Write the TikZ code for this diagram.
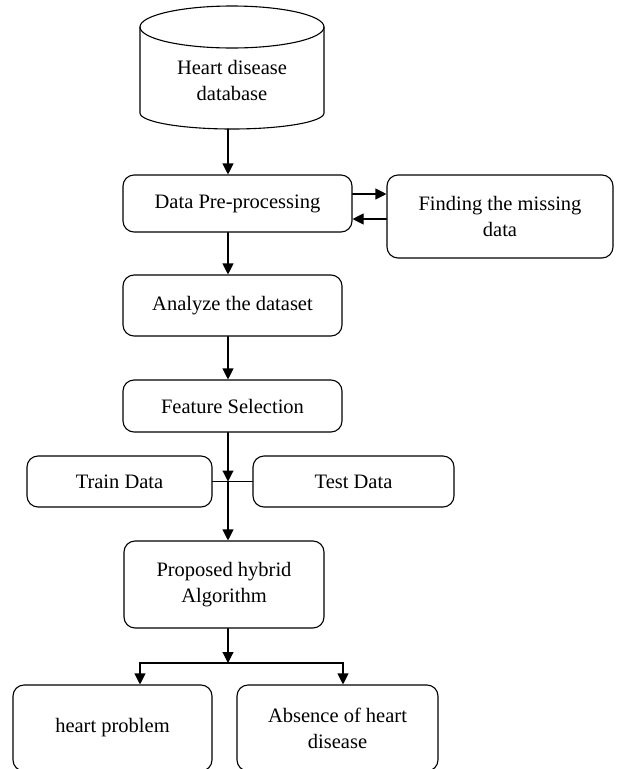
\documentclass[tikz,border=0pt]{standalone}
\usepackage{fontspec}
\setmainfont{Liberation Serif}
\usetikzlibrary{arrows.meta}

\begin{document}
\begin{tikzpicture}
		[x=1pt,y=-1pt,line cap=round,
		%Styles
		flow/.style={line width=1.1pt,-{Triangle[length=11pt,width=11pt]}},
		plain line/.style={line width=1.1pt},
		box/.style={draw,line width=1.1pt,rounded corners=11pt,align=center,
			font=\fontsize{20.5}{26}\selectfont,inner sep=0pt},
		dbtext/.style={align=center,font=\fontsize{20.5}{26}\selectfont,inner sep=0pt}
		]
		
		\useasboundingbox (0,0) rectangle (617,769);
		
		%The database drum
		\draw[plain line] (232,27) ellipse [x radius=92pt,y radius=21pt];
		\draw[plain line] (140,27) -- (140,113)
			arc[start angle=180,end angle=360,x radius=92pt,y radius=16pt] -- (324,27);
		\node[dbtext] (db) at (232,80) {Heart disease\\database};
		\coordinate (db bottom) at (232,129);
		
		%The graphic
		\node[box,minimum width=229pt,minimum height=57pt] (prep) at (237.5,203.5) {Data Pre-processing};
		\node[box,minimum width=226pt,minimum height=83pt] (find) at (500,216.5) {Finding the missing\\data};
		\node[box,minimum width=219pt,minimum height=61pt] (anl) at (232.5,305.5) {Analyze the dataset};
		\node[box,minimum width=219pt,minimum height=52pt] (feat) at (232.5,406) {Feature Selection};
		\node[box,minimum width=185pt,minimum height=51pt] (train) at (119.5,481.5) {Train Data};
		\node[box,minimum width=201pt,minimum height=51pt] (test) at (353.5,481.5) {Test Data};
		\node[box,minimum width=200pt,minimum height=87pt] (hyb) at (224,584.5) {Proposed hybrid\\Algorithm};
		\node[box,minimum width=199pt,minimum height=86pt] (hp) at (112.5,728) {heart problem};
		\node[box,minimum width=201pt,minimum height=86pt] (abs) at (337.5,728) {Absence of heart\\disease};
		
		\coordinate (split) at (228,481.5);
		\coordinate (fork) at (228,663);
		
		%Arrows
		\draw[flow] (db bottom -| split) -- (prep.north -| split);
		\draw[flow] ([yshift=9.5pt]prep.east) -- ([yshift=9.5pt]prep.east -| find.west);
		\draw[flow] ([yshift=-15.5pt]prep.east -| find.west) -- ([yshift=-15.5pt]prep.east);
		\draw[flow] (prep.south -| split) -- (anl.north -| split);
		\draw[flow] (anl.south -| split) -- (feat.north -| split);
		\draw[flow] (feat.south -| split) -- (split);
		\draw[plain line] (train.east) -- (test.west);
		\draw[flow] (split) -- (hyb.north -| split);
		\draw[flow] (hyb.south -| split) -- (fork);
		\draw[flow] (fork) -| ([xshift=27.5pt]hp.north);
		\draw[flow] (fork) -| ([xshift=5.5pt]abs.north);
	\end{tikzpicture}
\end{document}
